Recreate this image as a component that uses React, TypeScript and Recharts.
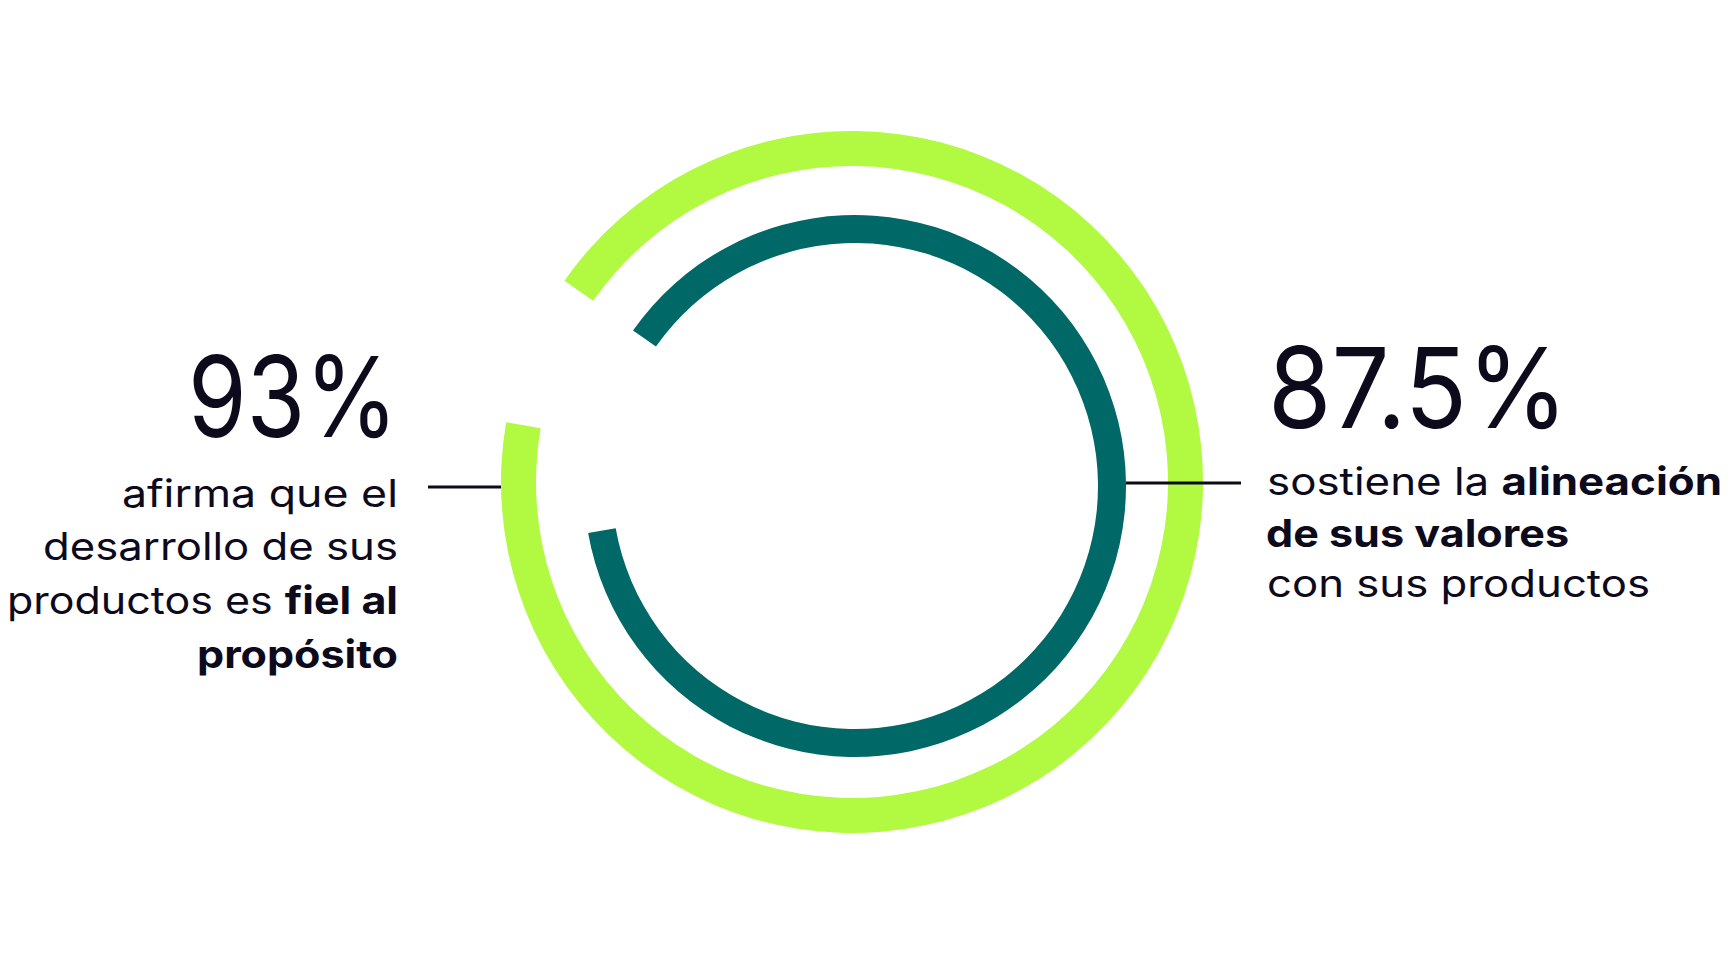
import { RadialBarChart, RadialBar, PolarAngleAxis } from "recharts";

const INK = "#0d0a1c";
const LIME = "#b1fa41";
const TEAL = "#006866";
const FONT = "Inter, 'Noto Sans', sans-serif";

// outer ring = "fiel al propósito", inner ring = "alineación de sus valores"
const RING_NAMES = ["propósito", "valores"];
const RING_VALUES = [93, 87.5];
const RING_COLORS = [LIME, TEAL];

interface RingProps {
  name: string;
  value: number;
  color: string;
  size: number;
  inner: number;
  outer: number;
  left: number;
  top: number;
}

// Both arcs start at 145° and run clockwise; the angle axis is pinned to [0, 100]
// so the value is read as a share of the full turn.
function Ring({ name, value, color, size, inner, outer, left, top }: RingProps) {
  return (
    <div style={{ position: "absolute", left, top, width: size, height: size }}>
      <RadialBarChart
        width={size}
        height={size}
        cx="50%"
        cy="50%"
        innerRadius={inner}
        outerRadius={outer}
        startAngle={145}
        endAngle={-215}
        barCategoryGap={0}
        margin={{ top: 0, right: 0, bottom: 0, left: 0 }}
        data={[{ name, value }]}
      >
        <PolarAngleAxis type="number" domain={[0, 100]} tick={false} axisLine={false} />
        <RadialBar dataKey="value" fill={color} isAnimationActive={false} />
      </RadialBarChart>
    </div>
  );
}

// the original face is a wide geometric sans; fit each line to its measured width
const fit = (w: number) => ({ textLength: w, lengthAdjust: "spacingAndGlyphs" as const });

export default function App() {
  return (
    <div
      style={{
        position: "absolute",
        left: 0,
        top: 0,
        width: 1735,
        height: 960,
        background: "#fff",
        fontFamily: FONT,
        overflow: "hidden",
      }}
    >
      <Ring
        name={RING_NAMES[0]}
        value={RING_VALUES[0]}
        color={RING_COLORS[0]}
        size={740}
        inner={316}
        outer={351}
        left={482}
        top={112}
      />
      <Ring
        name={RING_NAMES[1]}
        value={RING_VALUES[1]}
        color={RING_COLORS[1]}
        size={560}
        inner={243}
        outer={271}
        left={575}
        top={206}
      />

      <svg width={1735} height={960} style={{ position: "absolute", left: 0, top: 0 }}>
        <line x1={428} y1={487} x2={501} y2={487} stroke={INK} strokeWidth={3} />
        <line x1={1126} y1={483} x2={1241} y2={483} stroke={INK} strokeWidth={3} />

        <g fill={INK} fontFamily={FONT} textAnchor="end">
          <text x={398} y={437} fontSize={112} {...fit(210)}>
            {`${RING_VALUES[0]}%`}
          </text>
          <text x={398} y={507} fontSize={38} {...fit(276)}>
            afirma que el
          </text>
          <text x={398} y={560} fontSize={38} {...fit(355)}>
            desarrollo de sus
          </text>
          <text x={398} y={614} fontSize={38} {...fit(391)}>
            productos es <tspan fontWeight={700}>fiel al</tspan>
          </text>
          <text x={398} y={668} fontSize={38} fontWeight={700} {...fit(201)}>
            propósito
          </text>
        </g>

        <g fill={INK} fontFamily={FONT} textAnchor="start">
          <text x={1268} y={428} fontSize={112} {...fit(300)}>
            {`${RING_VALUES[1]}%`}
          </text>
          <text x={1267} y={495} fontSize={38} {...fit(455)}>
            sostiene la <tspan fontWeight={700}>alineación</tspan>
          </text>
          <text x={1266} y={547} fontSize={38} fontWeight={700} {...fit(303)}>
            de sus valores
          </text>
          <text x={1267} y={597} fontSize={38} {...fit(383)}>
            con sus productos
          </text>
        </g>
      </svg>
    </div>
  );
}
